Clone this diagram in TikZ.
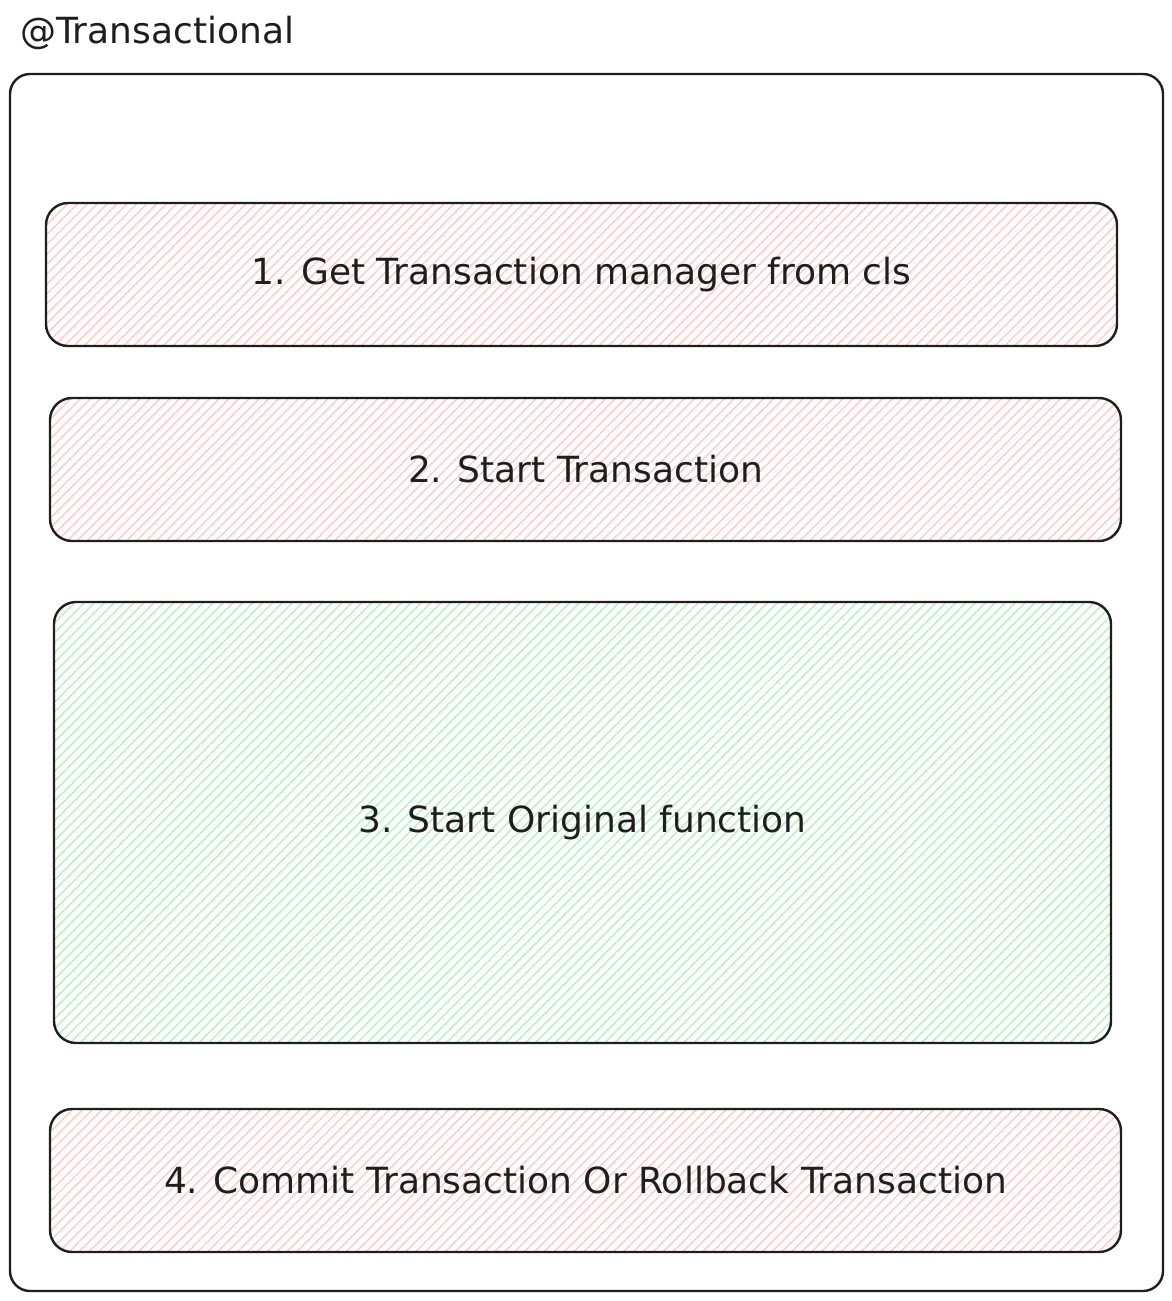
\documentclass[tikz,border=0pt]{standalone}
\usepackage{fontspec}
\setmainfont{DejaVu Sans}
\usetikzlibrary{patterns.meta}
\definecolor{ink}{HTML}{1E1E1E}
\definecolor{redhatch}{HTML}{FFC9C9}
\definecolor{greenhatch}{HTML}{B2F2BB}
\begin{document}
\begin{tikzpicture}[x=1pt,y=-1pt,
  box/.style={draw=ink, line width=2.4pt, rounded corners=22pt, text=ink,
    font=\fontsize{36}{43}\selectfont, inner sep=0pt},
  redbox/.style={box, pattern={Lines[angle=45,distance=7pt,line width=1.4pt]}, pattern color=redhatch},
  greenbox/.style={box, pattern={Lines[angle=45,distance=7pt,line width=1.4pt]}, pattern color=greenhatch},
  frame/.style={draw=ink, line width=2.4pt, rounded corners=20pt, inner sep=0pt},
  titletext/.style={text=ink, font=\fontsize{36}{43}\selectfont, inner sep=0pt, anchor=base west}
]
\useasboundingbox (0,0) rectangle (1172,1301);
\node[frame, minimum width=1153pt, minimum height=1217pt] (outer) at (586.5,682.5) {};
\node[titletext] (title) at (20,43) {@Transactional};
\node[redbox, minimum width=1071pt, minimum height=143pt] (b1) at (581.5,274.5) {1. Get Transaction manager from cls};
\node[redbox, minimum width=1071pt, minimum height=143pt] (b2) at (585.5,469.5) {2. Start Transaction};
\node[greenbox, minimum width=1057pt, minimum height=441pt] (b3) at (582.5,822.5) {3. Start Original function};
\node[redbox, minimum width=1071pt, minimum height=143pt] (b4) at (585.5,1180.5) {4. Commit Transaction Or Rollback Transaction};
\end{tikzpicture}
\end{document}
